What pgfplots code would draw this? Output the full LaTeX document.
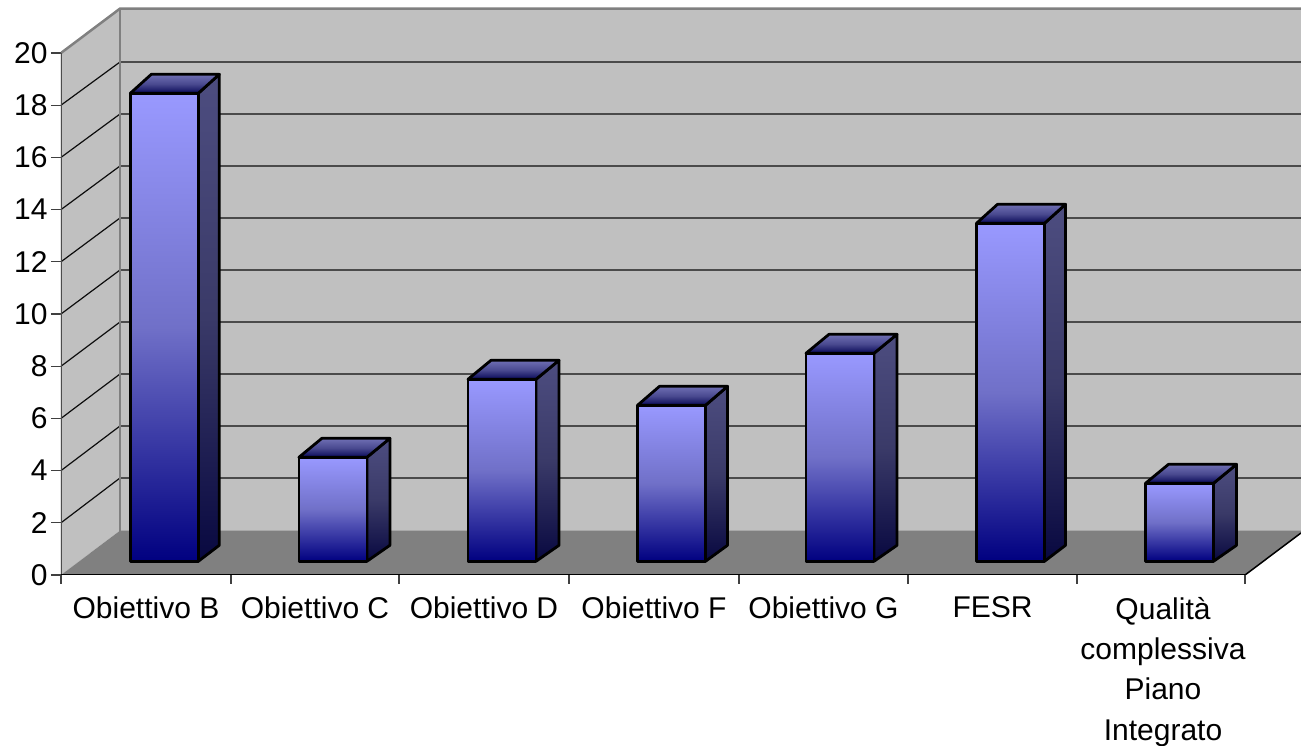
\documentclass[border=0pt]{standalone}
\usepackage{fontspec}
\setmainfont{Liberation Sans}
\usepackage{pgfplots}
\pgfplotsset{compat=1.18}
\definecolor{wall}{HTML}{C0C0C0}
\definecolor{floorc}{HTML}{808080}
\definecolor{frontT}{HTML}{9999FF}
\definecolor{frontM}{HTML}{7070C8}
\definecolor{frontB}{HTML}{000080}
\definecolor{sideT}{HTML}{4D4D80}
\definecolor{sideM}{HTML}{3A3A68}
\definecolor{sideB}{HTML}{080840}
\definecolor{capT}{HTML}{7070B4}
\definecolor{capM}{HTML}{4A4A90}
\definecolor{capB}{HTML}{080858}
% centre, value, depth of the side face
\newcommand\threedbar[3]{%
  \pgfmathsetmacro\xl{#1-34}%
  \pgfmathsetmacro\xr{#1+34}%
  \pgfmathsetmacro\xlb{#1-34+#3}%
  \pgfmathsetmacro\xrb{#1+34+#3}%
  \pgfmathsetmacro\vb{#2+0.73}%
  \edef\temp{\noexpand\addplot[draw=black, line width=2.8pt, line join=round, top color=sideT, bottom color=sideB, middle color=sideM]
    coordinates {(\xr,0)(\xrb,0.615)(\xrb,\vb)(\xr,#2)} -- cycle;
    \noexpand\addplot[draw=black, line width=2.8pt, line join=round, top color=capT, bottom color=capB, middle color=capM]
    coordinates {(\xl,#2)(\xr,#2)(\xrb,\vb)(\xlb,\vb)} -- cycle;
    \noexpand\addplot[ybar, bar width=68, bar shift=0pt, draw=black, line width=2.8pt, line join=round, top color=frontT, bottom color=frontB, middle color=frontM]
    coordinates {(#1,#2)};}%
  \temp
}
\begin{document}
\begin{tikzpicture}[x=1pt,y=1pt]
\path[use as bounding box] (0,0) rectangle (1301,746);
% back walls, floor, ticks and labels; x is in picture pixels
\begin{axis}[
    at={(61pt,171pt)}, anchor=south west,
    scale only axis, width=1240pt, height=567pt,
    xmin=61, xmax=1301, ymin=0, ymax=21.724,
    axis x line*=bottom, axis y line*=left,
    axis line style={draw=none},
    tick align=outside,
    ytick={0,2,...,20},
    xtick={146,315,484,654,823.5,992.5,1163},
    xticklabels={Obiettivo B,Obiettivo C,Obiettivo D,Obiettivo F,Obiettivo G,FESR,{Qualità\\complessiva\\Piano\\Integrato}},
    minor xtick={61,231,399,569,739,908,1077,1245},
    major tick length=10pt, minor tick length=9pt,
    x tick style={draw=none},
    y tick style={draw=black!75, line width=1.2pt},
    minor x tick style={draw=black!75, line width=1.2pt},
    /pgf/number format/assume math mode=true,
    ticklabel style={font=\fontsize{30}{40.3}\selectfont, text=black},
    xticklabel style={align=center, anchor=north, yshift=-8.5pt},
    yticklabel style={anchor=east, xshift=0pt},
  ]
  \addplot[fill=wall, draw=none] coordinates {(120,1.7)(1301,1.7)(1301,21.7)(120,21.7)} -- cycle;
  \addplot[fill=wall, draw=none] coordinates {(61,0)(120,1.7)(120,21.7)(61,20)} -- cycle;
  \addplot[fill=floorc, draw=none] coordinates {(61,0)(120,1.7)(1301,1.7)(1301,1.61)(1245,0)} -- cycle;
  \pgfplotsforeachungrouped \k in {2,4,...,18}{
    \pgfmathsetmacro\kb{(45+26*\k)/26.1}
    \edef\temp{\noexpand\addplot[black!95, line width=1.2pt] coordinates {(61,\k)(120,\kb)(1301,\kb)};}
    \temp
  }
  \addplot[floorc, line width=2.5pt] coordinates {(61,20)(120,21.7)(1301,21.7)};
  \addplot[floorc, line width=2.5pt] coordinates {(120,1.7)(120,21.7)};
  \addplot[black!70, line width=2pt] coordinates {(61,0)(61,20)};
  \addplot[black, line width=1.5pt] coordinates {(61,0)(1245,0)(1301,1.61)};
\end{axis}
% bars stand on their own base line, 13.7 px above the axis
\begin{axis}[
    at={(61pt,184.7pt)}, anchor=south west,
    scale only axis, width=1240pt, height=520pt,
    xmin=61, xmax=1301, ymin=0, ymax=20,
    hide axis, clip=false,
  ]
  \threedbar{164.3}{18}{21}
  \threedbar{332.9}{4}{23}
  \threedbar{502}{7}{23}
  \threedbar{671.5}{6}{22}
  \threedbar{840}{8}{23}
  \threedbar{1010.5}{13}{21}
  \threedbar{1179.5}{3}{23}
\end{axis}
\end{tikzpicture}
\end{document}
